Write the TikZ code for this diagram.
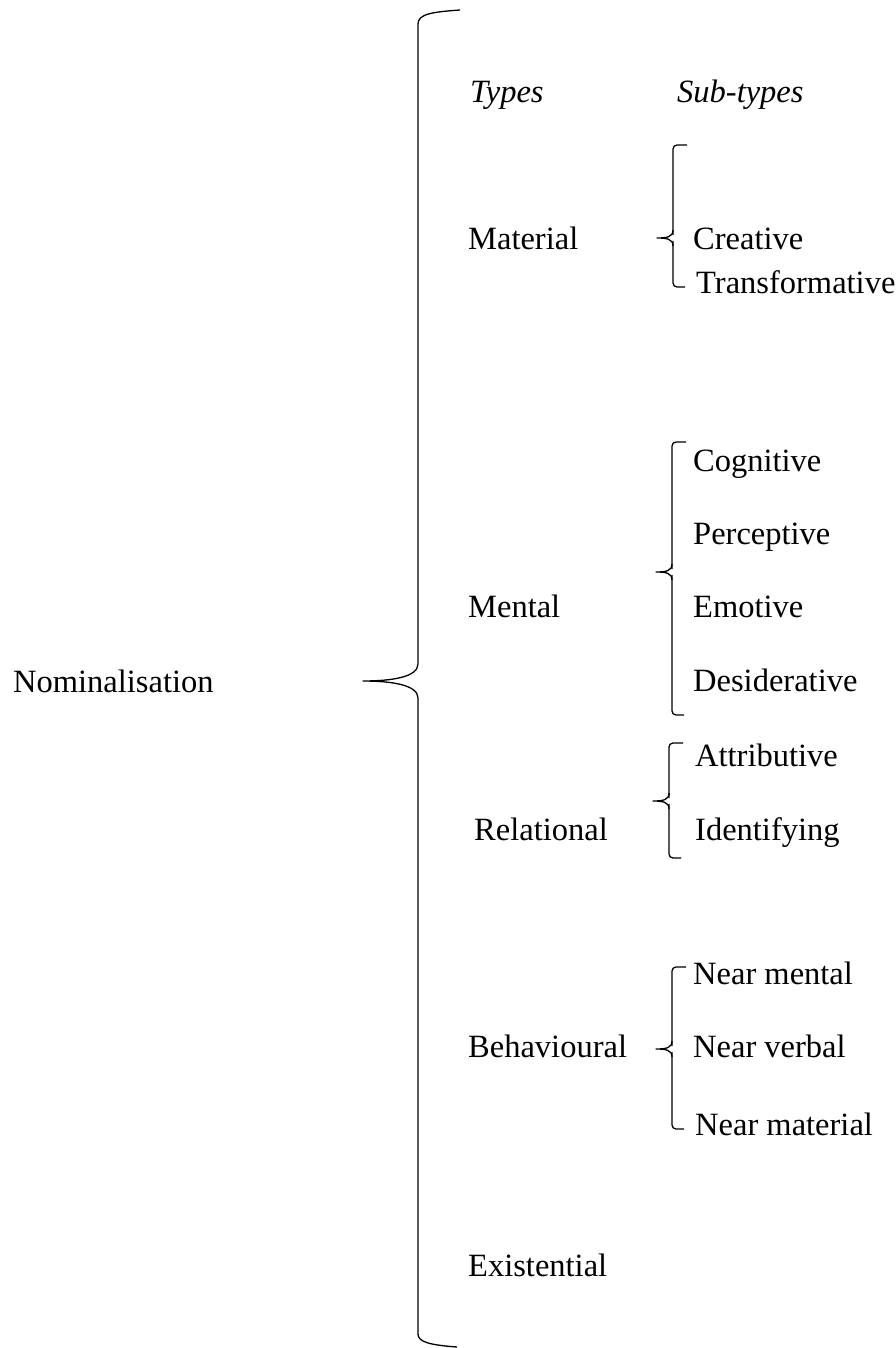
\documentclass[tikz,border=0pt]{standalone}
\usepackage{fontspec}
\setmainfont{Liberation Serif}
\tikzset{
	eintrag/.style = {anchor = base west, inner sep = 0pt},
	klammer/.style = {line width = 1.3pt, line join = round}
}
\begin{document}
\begin{tikzpicture}[x = 1pt, y = -1pt, font = \fontsize{32.5}{39}\selectfont]
		\useasboundingbox (0, 0) rectangle (895, 1348);
		% Oberbegriff
		\node [eintrag] (nom) at (13, 692) {Nominalisation};
		% Kopfzeile
		\node [eintrag] (types) at (470, 103) {\itshape Types};
		\node [eintrag] (subtypes) at (677, 103) {\itshape Sub-types};
		% Typen
		\node [eintrag] (material) at (468, 250) {Material};
		\node [eintrag] (mental) at (468, 617) {Mental};
		\node [eintrag] (relational) at (474, 840) {Relational};
		\node [eintrag] (behavioural) at (468, 1057) {Behavioural};
		\node [eintrag] (existential) at (468, 1276) {Existential};
		% Untertypen
		\node [eintrag] (creative) at (693, 250) {Creative};
		\node [eintrag] (transformative) at (696, 293) {Transformative};
		\node [eintrag] (cognitive) at (693, 471) {Cognitive};
		\node [eintrag] (perceptive) at (693, 544) {Perceptive};
		\node [eintrag] (emotive) at (693, 617) {Emotive};
		\node [eintrag] (desiderative) at (693, 691) {Desiderative};
		\node [eintrag] (attributive) at (695, 766) {Attributive};
		\node [eintrag] (identifying) at (695, 840) {Identifying};
		\node [eintrag] (nearmental) at (693, 984) {Near mental};
		\node [eintrag] (nearverbal) at (693, 1057) {Near verbal};
		\node [eintrag] (nearmaterial) at (695, 1135) {Near material};
		% Grosse Klammer
		\coordinate (spitze) at (363, 681);
		\draw [klammer] (460, 10) .. controls (432, 12) and (418, 14) .. (418, 24)
			-- (418, 664) .. controls (418, 677) and (392, 681) .. (spitze)
			.. controls (392, 681) and (418, 685) .. (418, 698)
			-- (418, 1334) .. controls (418, 1342) and (430, 1345) .. (457, 1347);
		% Kleine Klammern
		\foreach \x/\oben/\mitte/\unten/\name in {
				673/145/238/287/mat,
				672/442/572/715/men,
				669/743/801/858/rel,
				672/967/1049/1129/beh} {
			\coordinate (\name-spitze) at (\x - 16, \mitte);
			\draw [klammer, rounded corners = 4pt] (\x + 14, \oben) -- (\x, \oben) -- (\x, \mitte - 3);
			\draw [klammer] (\x, \mitte - 8) .. controls (\x, \mitte - 1) and (\x - 6, \mitte) .. (\name-spitze)
				.. controls (\x - 6, \mitte) and (\x, \mitte + 1) .. (\x, \mitte + 8);
			\draw [klammer, rounded corners = 4pt] (\x, \mitte + 3) -- (\x, \unten) -- (\x + 12, \unten);
		}
	\end{tikzpicture}
\end{document}
